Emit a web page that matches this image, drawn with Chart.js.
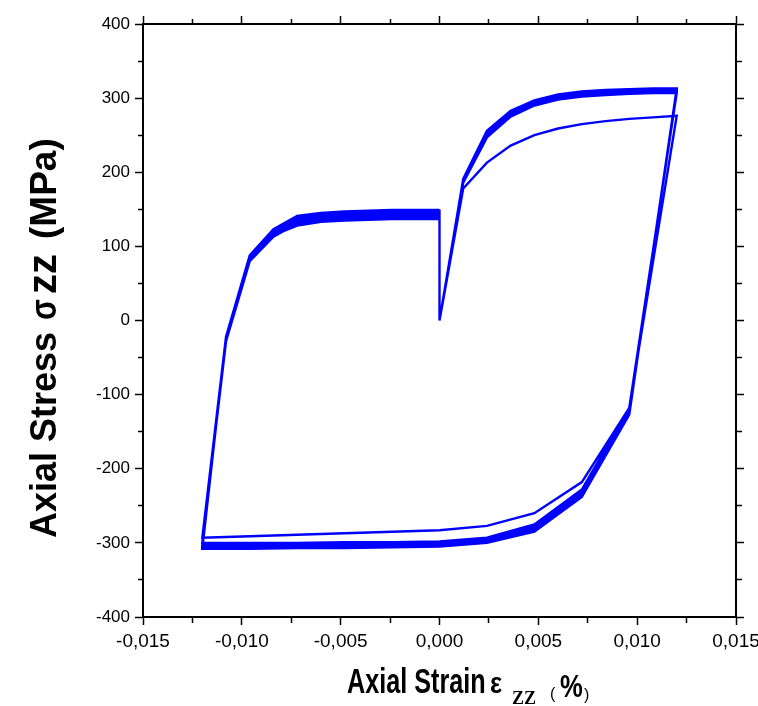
<!DOCTYPE html>
<html><head><meta charset="utf-8">
<script src="https://cdn.jsdelivr.net/npm/chart.js@4/dist/chart.umd.min.js"></script>
<style>html,body{margin:0;padding:0;background:#fff}</style>
</head><body>
<canvas id="c" width="758" height="706"></canvas>
<script>
// ---- strain path of one cycle (%)
const strainLoad   = [0, 0.0012, 0.0024, 0.0036, 0.0048, 0.006, 0.0072, 0.0084, 0.0096, 0.0108, 0.012];
const strainUnload = [0.0096, 0.0072, 0.0048, 0.0024, 0, -0.0024, -0.0048, -0.0072, -0.0096, -0.012];
const strainReload = [-0.0108, -0.0096, -0.0084, -0.0072, -0.006, -0.0048, -0.0036, -0.0024, -0.0012, 0];

// ---- axial stress (MPa) per cycle, following the strain path above
const cycle1Stress = [0,178,213,236,250,259,265,269,272,274,276,
  -118,-218,-260,-277,-283,-285,-287,-289,-291,-293,
  -22,82,115,128,133,135,136,137,137,137];
const cycle2Stress = [0,186,247,275,290,298,302,304,306,307,307,
  -118,-228,-275,-293,-298,-299,-299,-300,-300,-300,
  -28,80,113,131,136,138,139,140,140,140];
const cycle3Stress = [0,188,250,278,292,300,304,306,308,309,309,
  -121,-231,-278,-295,-300,-301,-302,-302,-302,-303,
  -26,82,116,134,139,141,142,143,143,143];
const cycle4Stress = [0,189,252,280,294,302,306,308,310,311,311,
  -123,-234,-281,-297,-302,-303,-304,-304,-305,-305,
  -24,84,119,137,142,144,145,146,146,146];
const cycle5Stress = [0,190,254,282,296,304,308,310,311,312,312,
  -125,-236,-283,-299,-304,-305,-306,-306,-307,-307,
  -23,86,121,139,144,146,147,148,148,148];
const cycle6Stress = [0,191,256,283,297,305,309,311,312,313,313,
  -127,-238,-285,-300,-305,-306,-307,-307,-308,-308,
  -22,88,123,141,145,147,148,149,149,149];

// ---- ticks
const xMajorTicks = [-0.015, -0.010, -0.005, 0, 0.005, 0.010, 0.015];
const xTickLabels = ['-0,015','-0,010','-0,005','0,000','0,005','0,010','0,015'];
const yMajorTicks = [-400, -300, -200, -100, 0, 100, 200, 300, 400];
const yTickLabels = ['-400','-300','-200','-100','0','100','200','300','400'];

const strainPath = strainLoad.concat(strainUnload, strainReload);
const cycles = [cycle1Stress, cycle2Stress, cycle3Stress, cycle4Stress, cycle5Stress, cycle6Stress];

// all cycles drawn as one continuous record (each cycle restarts at 0,0)
const points = [];
cycles.forEach(s => strainPath.forEach((x, k) => points.push({x: x, y: s[k]})));

const datasets = [{
  label: 'Axial stress',
  data: points,
  showLine: true,
  borderColor: '#0000ff',
  backgroundColor: '#0000ff',
  borderWidth: 2.4,
  pointRadius: 0,
  tension: 0,
  fill: false
}];

function withMinors(majors) {
  const out = [];
  for (let i = 0; i < majors.length; i++) {
    out.push({value: majors[i]});
    if (i < majors.length - 1) out.push({value: (majors[i] + majors[i + 1]) / 2});
  }
  return out;
}
function majorIndex(majors, v) {
  const span = Math.abs(majors[1] - majors[0]);
  for (let i = 0; i < majors.length; i++) if (Math.abs(majors[i] - v) < span * 1e-6) return i;
  return -1;
}
const TL = 8, MINOR = 5;
function gridFor(majors, innerFirst) {
  return {
    display: true, drawOnChartArea: false, drawTicks: true, tickLength: TL,
    tickColor: '#000', tickWidth: 1.5, color: '#000',
    tickBorderDash: (ctx) => {
      const v = ctx.tick ? ctx.tick.value : 0;
      if (majorIndex(majors, v) >= 0) return [];
      return innerFirst ? [MINOR, 100] : [0, TL - MINOR, MINOR, 100];
    }
  };
}
const tickFontX = {family: '"Liberation Sans", Arial, sans-serif', size: 19};
const tickFontY = {family: '"Liberation Sans", Arial, sans-serif', size: 17};

function seg(ctx, text, font, x, y, sx) {
  ctx.save();
  ctx.font = font;
  ctx.translate(x, y);
  ctx.scale(sx, 1);
  ctx.fillText(text, 0, 0);
  ctx.restore();
}

const titlePlugin = {
  id: 'richTitles',
  afterDraw(chart) {
    const ctx = chart.ctx;
    ctx.save();
    ctx.fillStyle = '#000';
    ctx.textBaseline = 'alphabetic';
    ctx.textAlign = 'left';
    const SANS = '"Liberation Sans", Arial, sans-serif';
    // x-axis title: Axial Strain ε ZZ ( %)
    seg(ctx, 'Axial Strain', 'bold 35px ' + SANS, 347, 693, 0.72);
    seg(ctx, 'ε', 'bold 30px ' + SANS, 490, 693, 0.85);
    seg(ctx, 'ZZ', 'bold 18px "Liberation Serif", "DejaVu Serif", serif', 512, 704, 1.0);
    seg(ctx, '(', '16px ' + SANS, 550, 699, 1.0);
    seg(ctx, '%', 'bold 32px ' + SANS, 560, 697, 0.8);
    seg(ctx, ')', '16px ' + SANS, 584, 700, 1.0);
    // y-axis title (rotated): Axial Stress  σ zz (MPa)
    ctx.translate(56, 538);
    ctx.rotate(-Math.PI / 2);
    seg(ctx, 'Axial Stress', 'bold 36px ' + SANS, 0, 0, 1.0);
    seg(ctx, 'σ', 'bold 36px ' + SANS, 218, 0, 0.85);
    seg(ctx, 'zz', 'bold 40px ' + SANS, 244, 0, 1.0);
    seg(ctx, '(MPa)', 'bold 37px ' + SANS, 299, 0, 1.0);
    ctx.restore();
  }
};

new Chart(document.getElementById('c'), {
  type: 'scatter',
  data: {datasets: datasets},
  plugins: [titlePlugin],
  options: {
    responsive: false,
    animation: false,
    events: [],
    layout: {padding: {left: 0, right: 14, top: 16, bottom: 0}},
    plugins: {legend: {display: false}, tooltip: {enabled: false}, title: {display: false}},
    scales: {
      x: {
        type: 'linear', position: 'bottom', min: -0.015, max: 0.015,
        afterBuildTicks: (s) => { s.ticks = withMinors(xMajorTicks); },
        afterFit: (s) => { s.height = 89; s.paddingLeft = 0; s.paddingRight = 0; },
        ticks: {
          autoSkip: false, maxRotation: 0, color: '#000', font: tickFontX, padding: 5,
          callback: (v) => { const i = majorIndex(xMajorTicks, v); return i >= 0 ? xTickLabels[i] : ''; }
        },
        grid: gridFor(xMajorTicks, true),
        border: {display: true, color: '#000', width: 2},
        title: {display: false}
      },
      xTop: {
        type: 'linear', position: 'top', axis: 'x', min: -0.015, max: 0.015,
        afterBuildTicks: (s) => { s.ticks = withMinors(xMajorTicks); },
        afterFit: (s) => { s.height = TL; s.paddingLeft = 0; s.paddingRight = 0; },
        ticks: {display: false, autoSkip: false},
        grid: gridFor(xMajorTicks, false),
        border: {display: true, color: '#000', width: 2}
      },
      y: {
        type: 'linear', position: 'left', min: -400, max: 400,
        afterBuildTicks: (s) => { s.ticks = withMinors(yMajorTicks); },
        afterFit: (s) => { s.width = 143; s.paddingTop = 0; s.paddingBottom = 0; },
        ticks: {
          autoSkip: false, color: '#000', font: tickFontY, padding: 5,
          callback: (v) => { const i = majorIndex(yMajorTicks, v); return i >= 0 ? yTickLabels[i] : ''; }
        },
        grid: gridFor(yMajorTicks, false),
        border: {display: true, color: '#000', width: 2},
        title: {display: false}
      },
      yRight: {
        type: 'linear', position: 'right', axis: 'y', min: -400, max: 400,
        afterBuildTicks: (s) => { s.ticks = withMinors(yMajorTicks); },
        afterFit: (s) => { s.width = TL; s.paddingTop = 0; s.paddingBottom = 0; },
        ticks: {display: false, autoSkip: false},
        grid: gridFor(yMajorTicks, true),
        border: {display: true, color: '#000', width: 2}
      }
    }
  }
});
</script>
</body></html>
